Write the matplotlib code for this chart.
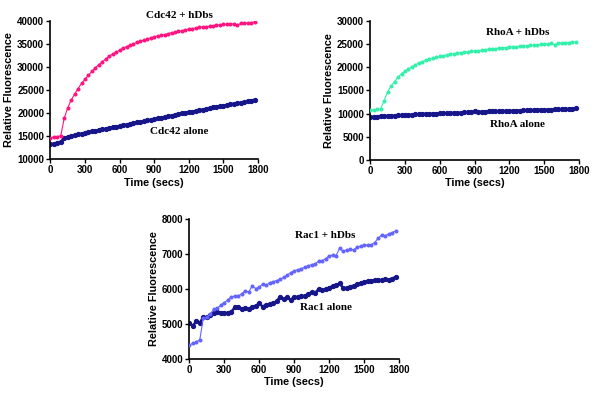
import numpy as np
import matplotlib.pyplot as plt

# time points (secs), one reading every 30 s
t = np.arange(0, 1800, 30)

cdc42_dbs = [14600, 14800, 14900, 15100, 18900, 21100, 22800, 24100, 25300, 26400,
             27300, 28200, 29000, 29800, 30500, 31100, 31700, 32300, 32800, 33200,
             33600, 34000, 34400, 34700, 35000, 35300, 35500, 35800, 36000, 36300,
             36500, 36700, 36800, 37000, 37200, 37400, 37500, 37700, 37800, 38000,
             38200, 38300, 38400, 38600, 38700, 38600, 38800, 38900, 39000, 39100,
             39200, 39200, 39300, 39300, 39000, 39400, 39500, 39500, 39600, 39700]
cdc42_alone = [13200, 13350, 13550, 13800, 14600, 14800, 15000, 15200, 15400, 15550,
               15700, 15850, 16000, 16150, 16300, 16450, 16600, 16750, 16900, 17050,
               17200, 17350, 17500, 17650, 17800, 17950, 18100, 18250, 18400, 18550,
               18700, 18850, 19000, 19150, 19300, 19450, 19600, 19750, 19900, 20050,
               20150, 20300, 20450, 20600, 20750, 20900, 21050, 21200, 21350, 21450,
               21600, 21750, 21900, 22000, 22150, 22250, 22400, 22550, 22700, 22850]

rhoa_dbs = [10700, 10800, 10900, 11000, 12800, 14600, 15900, 16900, 17800, 18600,
            19100, 19600, 20100, 20500, 20900, 21200, 21500, 21700, 22000, 22100,
            22300, 22500, 22600, 22800, 22900, 23000, 23100, 23200, 23300, 23400,
            23500, 23500, 23600, 23700, 23800, 23900, 24000, 24100, 24200, 24200,
            24300, 24400, 24400, 24500, 24500, 24600, 24700, 24700, 24800, 24900,
            24900, 25000, 25100, 24800, 25200, 25200, 25300, 25300, 25400, 25400]
rhoa_alone = [9300, 9300, 9350, 9400, 9450, 9500, 9550, 9550, 9600, 9650,
              9700, 9700, 9750, 9800, 9850, 10000, 9900, 9950, 10000, 10000,
              10050, 10050, 10100, 10100, 10150, 10150, 10200, 10250, 10300, 10300,
              10500, 10350, 10400, 10400, 10450, 10450, 10500, 10500, 10550, 10550,
              10600, 10600, 10650, 10650, 10700, 10700, 10750, 10750, 10800, 10850,
              10850, 10800, 10850, 10900, 10900, 10950, 11000, 11000, 11050, 11100]

rac1_dbs = [4390, 4440, 4480, 4540, 5160, 5190, 5280, 5420, 5440, 5540,
            5610, 5680, 5760, 5800, 5800, 5860, 5950, 5910, 6090, 6010,
            6050, 6140, 6100, 6180, 6210, 6240, 6280, 6330, 6390, 6470,
            6520, 6550, 6580, 6620, 6660, 6700, 6720, 6800, 6810, 6870,
            6950, 6970, 6960, 7170, 7080, 7120, 7140, 7120, 7200, 7230,
            7270, 7260, 7270, 7330, 7450, 7550, 7530, 7570, 7620, 7660]
rac1_alone = [5030, 4940, 5070, 5030, 5190, 5190, 5240, 5300, 5350, 5320,
              5320, 5300, 5340, 5470, 5470, 5420, 5440, 5420, 5490, 5510,
              5590, 5490, 5550, 5570, 5590, 5650, 5780, 5700, 5760, 5680,
              5780, 5760, 5810, 5790, 5860, 5900, 5880, 6000, 5960, 5990,
              6040, 6080, 6100, 6160, 6030, 6020, 6070, 6090, 6130, 6170,
              6200, 6220, 6240, 6250, 6260, 6250, 6280, 6260, 6300, 6340]

navy = "#16168a"

panels = [
    # rect, with-hDbs data, alone data, colour, ylim, yticks, labels
    ([0.084, 0.600, 0.346, 0.348], cdc42_dbs, cdc42_alone, "#ff1480",
     (10000, 40000), np.arange(10000, 40001, 5000),
     ("Cdc42 + hDbs", 1120, 41100), ("Cdc42 alone", 1120, 16100)),
    ([0.617, 0.598, 0.348, 0.350], rhoa_dbs, rhoa_alone, "#33f0aa",
     (0, 30000), np.arange(0, 30001, 5000),
     ("RhoA + hDbs", 1270, 27400), ("RhoA alone", 1270, 7700)),
    ([0.3155, 0.099, 0.3495, 0.350], rac1_dbs, rac1_alone, "#6464ff",
     (4000, 8000), np.arange(4000, 8001, 1000),
     ("Rac1 + hDbs", 1165, 7530), ("Rac1 alone", 1170, 5460)),
]

fig = plt.figure(figsize=(6, 3.98), dpi=100)

for rect, y_dbs, y_alone, col, ylim, yticks, lab1, lab2 in panels:
    ax = fig.add_axes(rect)
    ax.plot(t, y_alone, "-o", color=navy, lw=1.8, ms=2.8, zorder=2)
    ax.plot(t, y_dbs, "-o", color=col, lw=0.8, ms=1.9, zorder=3)
    ax.set_xlim(0, 1800)
    ax.set_ylim(*ylim)
    ax.set_xticks(np.arange(0, 1801, 300))
    ax.set_yticks(yticks)
    for s in ["top", "right"]:
        ax.spines[s].set_visible(False)
    for s in ["left", "bottom"]:
        ax.spines[s].set_linewidth(1.2)
    ax.tick_params(length=3, width=1, pad=1.5, labelsize=7)
    for lbl in ax.get_xticklabels() + ax.get_yticklabels():
        lbl.set_family("Liberation Sans")
        lbl.set_fontweight("bold")
    ax.set_xlabel("Time (secs)", family="Liberation Sans", fontweight="bold",
                  fontsize=7.8, labelpad=1.5)
    ax.set_ylabel("Relative Fluorescence", family="Liberation Sans",
                  fontweight="bold", fontsize=7.8, labelpad=2)
    for txt, x, y in (lab1, lab2):
        ax.text(x, y, txt, ha="center", va="center", family="Liberation Serif",
                fontweight="bold", fontsize=8, clip_on=False)

fig.savefig("out.png", dpi=100)
